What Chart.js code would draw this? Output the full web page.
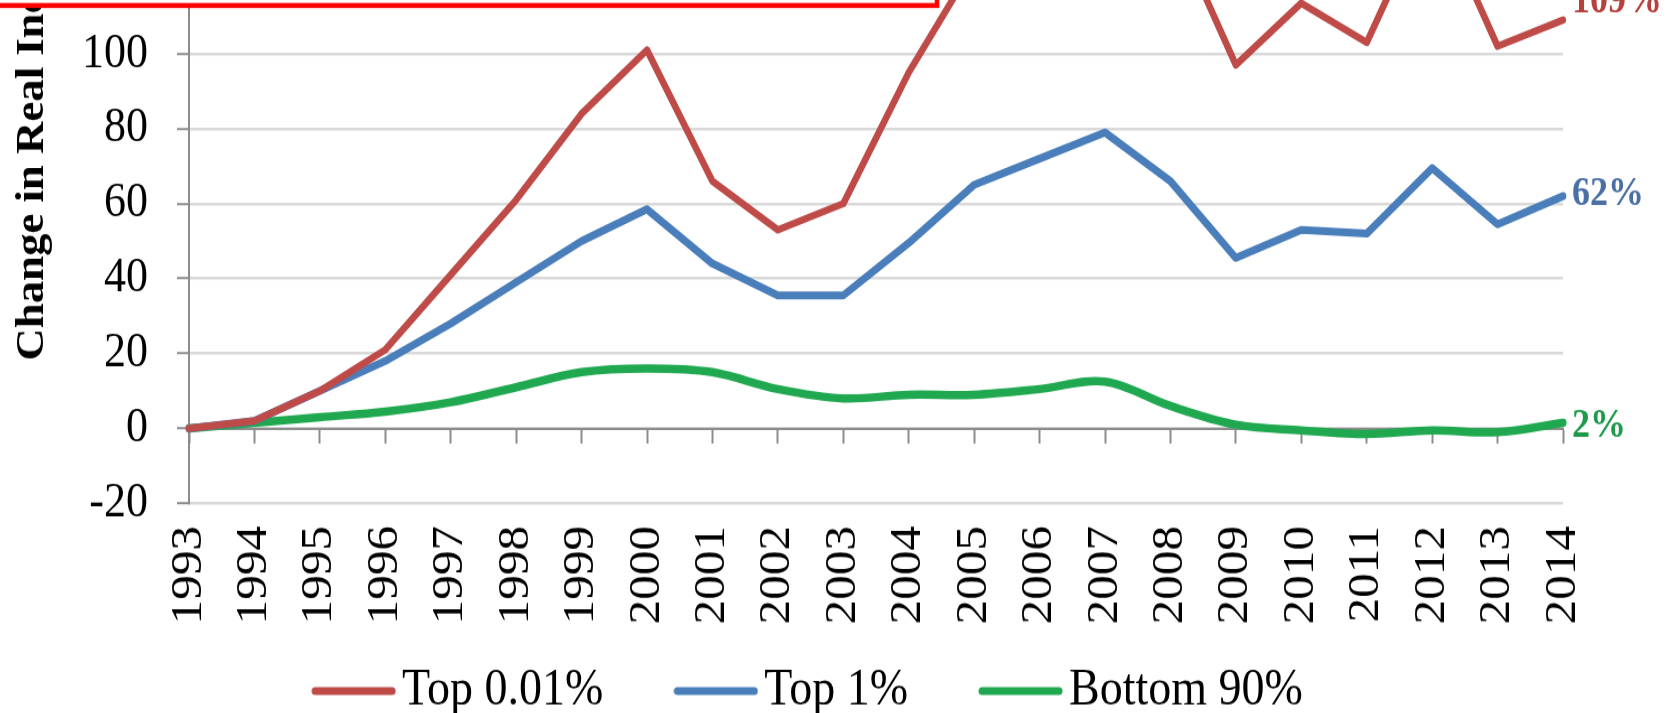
<!DOCTYPE html>
<html>
<head>
<meta charset="utf-8">
<script src="https://cdn.jsdelivr.net/npm/chart.js@4.4.0/dist/chart.umd.min.js"></script>
<style>
  html, body { margin: 0; padding: 0; background: #fff; overflow: hidden; }
  #frame { width: 1667px; height: 713px; overflow: hidden; position: relative; }
  /* the source picture is a little stretched vertically */
  #wrap { position: absolute; left: 0; top: 0; width: 1667px; height: 705px; transform: scaleY(1.12); transform-origin: 0 0; }
</style>
</head>
<body>
<div id="frame"><div id="wrap"><canvas id="incomeChart" width="1667" height="705"></canvas></div></div>
<script>
// Data
const years = ["1993", "1994", "1995", "1996", "1997", "1998", "1999", "2000", "2001", "2002", "2003",
  "2004", "2005", "2006", "2007", "2008", "2009", "2010", "2011", "2012", "2013", "2014"];
const top001 = [0, 2, 10, 21, 41, 61, 84, 101, 66, 53, 60, 95, 124, 148, 165, 136, 97, 113.5, 103, 141, 102, 109];
const top1 = [0, 2, 10, 18, 28, 39, 50, 58.5, 44, 35.5, 35.5, 49.5, 65, 72, 79, 66, 45.5, 53, 52, 69.5, 54.5, 62];
const bottom90 = [0, 1.5, 3, 4.5, 7, 11, 15, 16, 15, 10.5, 8, 9, 9, 10.5, 12.5, 6, 1, -0.5, -1.5, -0.5, -1, 1.5];
const yTicks = [-20, 0, 20, 40, 60, 80, 100];
const seriesNames = ["Top 0.01%", "Top 1%", "Bottom 90%"];
const yTitle = "Change in Real Income";

const FONT = "Liberation Serif";
const colors = ["#be4b48", "#4a7ebb", "#1fa84f"];
const endLabelColors = ["#b5403c", "#4a6fa5", "#1f9a4a"];
const endLabelShift = [-16.5, -1, 3];

// short line used as legend glyph
function legendLine(color) {
  const c = document.createElement("canvas");
  c.width = 85;
  c.height = 10;
  const g = c.getContext("2d");
  g.strokeStyle = color;
  g.lineWidth = 7;
  g.lineCap = "round";
  g.beginPath();
  g.moveTo(4, 5);
  g.lineTo(81, 5);
  g.stroke();
  return c;
}

// Title, end labels, legend nudge and the red frame
const decorations = {
  id: "decorations",
  afterLayout(chart) {
    const lg = chart.legend;
    lg.left += 34;
    lg.right += 34;
    lg.top -= 55;
    lg.bottom -= 55;
  },
  afterDatasetsDraw(chart) {
    const ctx = chart.ctx;
    ctx.save();
    ctx.font = `bold 36px "${FONT}"`;
    ctx.textAlign = "left";
    ctx.textBaseline = "middle";
    chart.data.datasets.forEach((ds, i) => {
      const pts = chart.getDatasetMeta(i).data;
      const last = pts[pts.length - 1];
      ctx.fillStyle = endLabelColors[i];
      ctx.fillText(Math.round(ds.data[ds.data.length - 1]) + "%", last.x + 9, last.y + endLabelShift[i]);
    });
    ctx.restore();
  },
  afterDraw(chart) {
    const ctx = chart.ctx;
    ctx.save();
    ctx.translate(33, 322);
    ctx.rotate(-Math.PI / 2);
    ctx.font = `bold 40px "${FONT}"`;
    ctx.fillStyle = "#000";
    ctx.textAlign = "left";
    ctx.textBaseline = "middle";
    ctx.fillText(yTitle, 0, 0);
    ctx.restore();

    ctx.save();
    ctx.fillStyle = "#fff";
    ctx.fillRect(-10, -10, 947, 14.9);
    ctx.strokeStyle = "#ff0000";
    ctx.lineWidth = 4.5;
    ctx.strokeRect(-10, -10, 947, 14.9);
    ctx.restore();
  }
};

function makeSet(label, data, color, width, tension) {
  return {
    label,
    data,
    borderColor: color,
    backgroundColor: color,
    borderWidth: width,
    pointRadius: 0,
    tension,
    borderJoinStyle: "round",
    borderCapStyle: "round"
  };
}

new Chart(document.getElementById("incomeChart"), {
  type: "line",
  data: {
    labels: years,
    datasets: [
      makeSet(seriesNames[0], top001, colors[0], 6.5, 0),
      makeSet(seriesNames[1], top1, colors[1], 7, 0),
      makeSet(seriesNames[2], bottom90, colors[2], 7.5, 0.35)
    ]
  },
  options: {
    responsive: false,
    animation: false,
    events: [],
    layout: { padding: { left: 0, right: 104, top: 0, bottom: 0 } },
    scales: {
      x: {
        type: "category",
        grid: { display: false, drawTicks: false },
        border: { display: false },
        ticks: {
          autoSkip: false,
          minRotation: 90,
          maxRotation: 90,
          padding: 20,
          color: "#000",
          font: { family: FONT, size: 44 }
        },
        afterFit: s => { s.height = 112.6; s.paddingLeft = 0; s.paddingRight = 0; }
      },
      x0: {
        type: "category",
        position: { y: 0 },
        grid: { drawOnChartArea: false, tickLength: 12, tickColor: "#8c8c8c", tickWidth: 2 },
        border: { color: "#8c8c8c", width: 2 },
        ticks: { display: false },
        afterFit: s => { s.paddingLeft = 0; s.paddingRight = 0; s.paddingTop = 0; s.paddingBottom = 0; }
      },
      y: {
        min: -20,
        max: 114.35,
        afterBuildTicks: s => { s.ticks = yTicks.map(v => ({ value: v })); },
        afterFit: s => { s.width = 189; s.paddingTop = 0; s.paddingBottom = 0; },
        grid: { color: "#d9d9d9", lineWidth: 2.5, tickLength: 12, tickColor: "#8c8c8c", tickWidth: 2 },
        border: { color: "#8c8c8c", width: 2 },
        ticks: { padding: 29, color: "#000", font: { family: FONT, size: 44 } }
      }
    },
    plugins: {
      tooltip: { enabled: false },
      legend: {
        position: "bottom",
        labels: {
          usePointStyle: true,
          pointStyleWidth: 51,
          boxHeight: 7,
          padding: 87,
          color: "#000",
          font: { family: FONT, size: 46 },
          generateLabels: chart => chart.data.datasets.map((ds, i) => ({
            text: ds.label,
            fillStyle: ds.borderColor,
            strokeStyle: ds.borderColor,
            fontColor: "#000",
            lineWidth: 0,
            pointStyle: legendLine(ds.borderColor),
            rotation: 0,
            datasetIndex: i,
            hidden: false
          }))
        }
      }
    }
  },
  plugins: [decorations]
});
</script>
</body>
</html>
